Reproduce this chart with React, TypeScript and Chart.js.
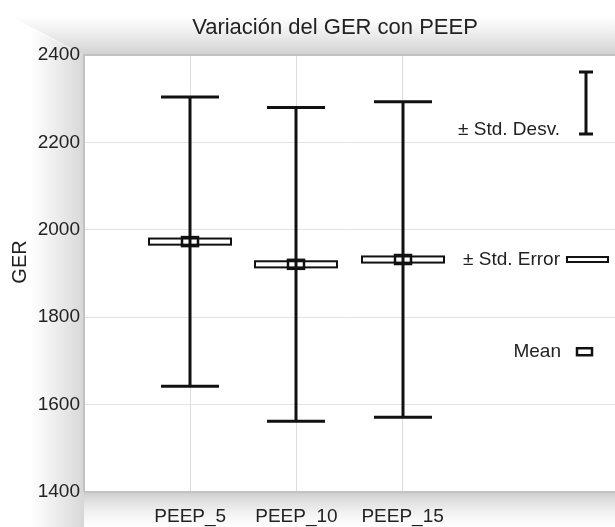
import React, { useEffect, useRef } from "react";
import { Chart, registerables } from "chart.js";

Chart.register(...registerables);

const categories = ["PEEP_5", "PEEP_10", "PEEP_15"];
const categoryPositions = [1, 2, 3];
const means = [1973, 1921, 1932];
const stdDev = [331, 359, 361];
const stdErr = [7, 7, 7];
const yTicks = [1400, 1600, 1800, 2000, 2200, 2400];
const titleText = "Variación del GER con PEEP";
const yTitle = "GER";
const legendLabels = ["± Std. Desv.", "± Std. Error", "Mean"];

const FONT = "'Liberation Sans', Arial, sans-serif";

const framePlugin = {
  id: "frame",
  beforeDraw(chart: any) {
    const { ctx, chartArea, width, height } = chart;
    const { left, top, right, bottom } = chartArea;
    ctx.save();
    ctx.fillStyle = "#ffffff";
    ctx.fillRect(0, 0, width, height);
    // left band
    let g = ctx.createLinearGradient(30, 0, left, 0);
    g.addColorStop(0, "rgba(220,220,220,0)");
    g.addColorStop(1, "rgba(215,215,215,1)");
    ctx.fillStyle = g;
    ctx.beginPath();
    ctx.moveTo(10, 18);
    ctx.lineTo(left, top);
    ctx.lineTo(left, height);
    ctx.lineTo(0, height);
    ctx.lineTo(0, 18);
    ctx.closePath();
    ctx.fill();
    // top band
    g = ctx.createLinearGradient(0, 16, 0, top);
    g.addColorStop(0, "rgba(220,220,220,0)");
    g.addColorStop(1, "rgba(208,208,208,1)");
    ctx.fillStyle = g;
    ctx.beginPath();
    ctx.moveTo(10, 16);
    ctx.lineTo(width, 16);
    ctx.lineTo(width, top);
    ctx.lineTo(left, top);
    ctx.closePath();
    ctx.fill();
    // bottom band
    g = ctx.createLinearGradient(0, bottom, 0, height);
    g.addColorStop(0, "rgba(205,205,205,1)");
    g.addColorStop(1, "rgba(240,240,240,0.1)");
    ctx.fillStyle = g;
    ctx.fillRect(left, bottom, width - left, height - bottom);
    // plot area
    ctx.fillStyle = "#ffffff";
    ctx.fillRect(left, top, right - left, bottom - top);
    // title
    ctx.fillStyle = "#222";
    ctx.font = `22px ${FONT}`;
    ctx.textAlign = "center";
    ctx.textBaseline = "middle";
    ctx.fillText(titleText, 335, 28);
    // y title
    ctx.save();
    ctx.translate(20, 262);
    ctx.rotate(-Math.PI / 2);
    ctx.font = `20px ${FONT}`;
    ctx.fillText(yTitle, 0, 0);
    ctx.restore();
    ctx.restore();
  },
  afterDatasetsDraw(chart: any) {
    const { ctx, scales, chartArea } = chart;
    const xs = scales.x;
    const ys = scales.y;
    ctx.save();
    // borders
    ctx.strokeStyle = "#c2c2c2";
    ctx.lineWidth = 2;
    ctx.beginPath();
    ctx.moveTo(chartArea.left, chartArea.bottom);
    ctx.lineTo(chartArea.left, chartArea.top);
    ctx.lineTo(chartArea.right, chartArea.top);
    ctx.moveTo(chartArea.left, chartArea.bottom);
    ctx.lineTo(chartArea.right, chartArea.bottom);
    ctx.stroke();

    ctx.strokeStyle = "#111";
    for (let i = 0; i < categories.length; i++) {
      const x = Math.round(xs.getPixelForValue(categoryPositions[i]));
      const yHi = ys.getPixelForValue(means[i] + stdDev[i]);
      const yLo = ys.getPixelForValue(means[i] - stdDev[i]);
      const yM = ys.getPixelForValue(means[i]);
      const seHi = ys.getPixelForValue(means[i] + stdErr[i]);
      const seLo = ys.getPixelForValue(means[i] - stdErr[i]);
      // whisker
      ctx.lineWidth = 3;
      ctx.beginPath();
      ctx.moveTo(x, yHi);
      ctx.lineTo(x, yLo);
      ctx.moveTo(x - 29, yHi);
      ctx.lineTo(x + 29, yHi);
      ctx.moveTo(x - 29, yLo);
      ctx.lineTo(x + 29, yLo);
      ctx.stroke();
      // SE rect
      ctx.lineWidth = 2;
      ctx.fillStyle = "#fff";
      const h = Math.max(seLo - seHi, 5);
      ctx.fillRect(x - 41, yM - h / 2, 82, h);
      ctx.strokeRect(x - 41, yM - h / 2, 82, h);
      ctx.lineWidth = 3;
      ctx.beginPath();
      ctx.moveTo(x, yM - h / 2);
      ctx.lineTo(x, yM + h / 2);
      ctx.stroke();
      // mean box
      ctx.lineWidth = 2.5;
      ctx.strokeRect(x - 8, yM - 4.5, 16, 9);
    }

    // legend
    const r = chartArea.right;
    ctx.fillStyle = "#222";
    ctx.font = `19px ${FONT}`;
    ctx.textAlign = "right";
    ctx.textBaseline = "middle";
    const yL1 = ys.getPixelForValue(2228);
    const yL2 = ys.getPixelForValue(means[2]);
    const yL3 = ys.getPixelForValue(1721);
    ctx.fillText(legendLabels[0], r - 55, yL1);
    ctx.fillText(legendLabels[1], r - 55, yL2);
    ctx.fillText(legendLabels[2], r - 54, yL3);
    // std desv icon
    ctx.strokeStyle = "#111";
    ctx.lineWidth = 3;
    const ix = r - 29;
    const t1 = ys.getPixelForValue(2361);
    const b1 = ys.getPixelForValue(2219);
    ctx.beginPath();
    ctx.moveTo(ix, t1);
    ctx.lineTo(ix, b1);
    ctx.moveTo(ix - 7, t1);
    ctx.lineTo(ix + 7, t1);
    ctx.moveTo(ix - 7, b1);
    ctx.lineTo(ix + 7, b1);
    ctx.stroke();
    // std error icon
    ctx.lineWidth = 2;
    ctx.strokeRect(r - 48, yL2 - 2.5, 41, 5);
    // mean icon
    ctx.lineWidth = 2.5;
    ctx.strokeRect(r - 38, yL3 - 3.5, 15, 7);
    ctx.restore();
  },
};

export default function App() {
  const ref = useRef<HTMLCanvasElement>(null);
  useEffect(() => {
    document.body.style.margin = "0";
    const chart = new Chart(ref.current as HTMLCanvasElement, {
      type: "scatter",
      data: {
        datasets: [
          {
            data: categoryPositions.map((x, i) => ({ x, y: means[i] })),
            pointRadius: 0,
            showLine: false,
          },
        ],
      },
      options: {
        animation: false,
        responsive: false,
        layout: { padding: { top: 55, right: 0, left: 0, bottom: 0 } },
        plugins: {
          legend: { display: false },
          tooltip: { enabled: false },
          title: { display: false },
        },
        scales: {
          x: {
            type: "linear",
            min: 0,
            max: 5,
            afterBuildTicks: (s: any) => {
              s.ticks = categoryPositions.map((v) => ({ value: v }));
            },
            afterFit: (s: any) => {
              s.height = 35;
            },
            ticks: {
              autoSkip: false,
              maxRotation: 0,
              padding: 13,
              color: "#222",
              font: { family: FONT, size: 19 },
              callback: (v: any) => {
                const i = categoryPositions.indexOf(Number(v));
                return i >= 0 ? categories[i] : "";
              },
            },
            grid: { color: "#dddddd", lineWidth: 1, drawTicks: false },
            border: { display: false },
          },
          y: {
            type: "linear",
            min: 1400,
            max: 2400,
            afterBuildTicks: (s: any) => {
              s.ticks = yTicks.map((v) => ({ value: v }));
            },
            afterFit: (s: any) => {
              s.width = 84;
            },
            title: { display: false },
            ticks: {
              padding: 4,
              color: "#222",
              font: { family: FONT, size: 19 },
              callback: (v: any) => String(v),
            },
            grid: { color: "#e2e2e2", lineWidth: 1, drawTicks: false },
            border: { display: false },
          },
        },
      },
      plugins: [framePlugin],
    });
    return () => chart.destroy();
  }, []);
  return (
    <div style={{ width: 615, height: 527 }}>
      <canvas ref={ref} width={615} height={527} style={{ display: "block" }} />
    </div>
  );
}
